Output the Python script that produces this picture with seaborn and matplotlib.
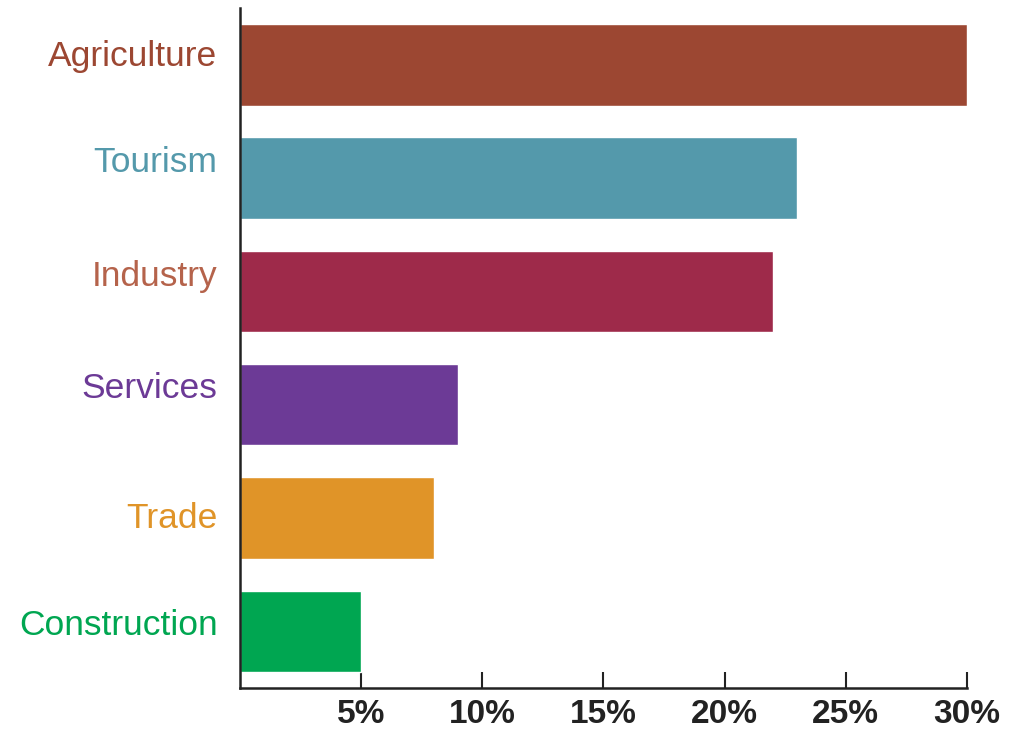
import pandas as pd
import matplotlib.pyplot as plt
import matplotlib.transforms as mtransforms
import seaborn as sns

sectors = ["Agriculture", "Tourism", "Industry", "Services", "Trade", "Construction"]
shares = [30, 23, 22, 9, 8, 5]
bar_colors = ["#9C4732", "#5499AB", "#9E2A4A", "#6C3A96", "#E09428", "#00A651"]
label_colors = ["#9C4732", "#5499AB", "#B5634B", "#6C3A96", "#E09428", "#00A651"]
# labels in the original sit a bit above the bar centres (pixels)
label_lift = [11.5, 19, 18, 19.5, 3, 9]
ticks = [5, 10, 15, 20, 25, 30]
tick_labels = ["5%", "10%", "15%", "20%", "25%", "30%"]


def main():
    sns.set_style("white")
    plt.rcParams["font.family"] = ["Liberation Sans", "DejaVu Sans"]

    df = pd.DataFrame({"sector": sectors, "share": shares})

    fig = plt.figure(figsize=(10.25, 7.31), dpi=100)
    ax = fig.add_axes([0.234, 0.0588, 0.7094, 0.9302])

    sns.barplot(data=df, x="share", y="sector", hue="sector", palette=bar_colors,
                legend=False, width=0.72, saturation=1, ax=ax)

    ax.set_xlim(0, 30)
    ax.set_xticks(ticks)
    ax.set_xticklabels(tick_labels, fontsize=24, fontweight="bold", color="#222222")
    ax.tick_params(axis="x", bottom=True, direction="in", length=11.5, width=1.5,
                   color="#222222", pad=8)
    ax.tick_params(axis="y", left=False, length=0, pad=16, labelsize=25.5)
    for lbl, c, lift in zip(ax.get_yticklabels(), label_colors, label_lift):
        lbl.set_color(c)
        lbl.set_transform(lbl.get_transform() +
                          mtransforms.ScaledTranslation(0, lift / 100, fig.dpi_scale_trans))

    for side in ["top", "right"]:
        ax.spines[side].set_visible(False)
    for side in ["left", "bottom"]:
        ax.spines[side].set_linewidth(1.8)
        ax.spines[side].set_color("#222222")

    ax.set_xlabel("")
    ax.set_ylabel("")
    fig.savefig("out.png", dpi=100)


if __name__ == "__main__":
    main()
